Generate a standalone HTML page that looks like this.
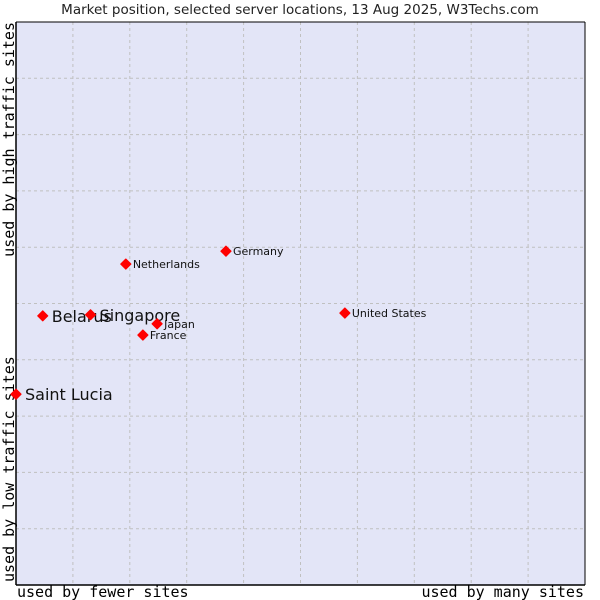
<!DOCTYPE html>
<html><head><meta charset="utf-8"><style>
html,body{margin:0;padding:0;background:#fff;}
svg{display:block;}
</style></head><body>
<svg id="chart" width="600" height="600" xmlns="http://www.w3.org/2000/svg">
<text x="300" y="14" text-anchor="middle" font-family="DejaVu Sans, sans-serif" font-size="13.5" fill="#222">Market position, selected server locations, 13 Aug 2025, W3Techs.com</text>
<rect x="16" y="22" width="569" height="563" fill="#e3e5f7"/>
<g id="grid"></g>
<line x1="16" y1="22" x2="16" y2="585" stroke="#000" stroke-width="1.5"/>
<line x1="16" y1="585" x2="585" y2="585" stroke="#000" stroke-width="1.5"/>
<line x1="585" y1="22" x2="585" y2="585" stroke="#000" stroke-width="1"/>
<line x1="16" y1="22" x2="585" y2="22" stroke="#000" stroke-width="1"/>
<text x="17" y="597" font-family="DejaVu Sans Mono, monospace" font-size="15" fill="#000">used by fewer sites</text>
<text x="584" y="597" text-anchor="end" font-family="DejaVu Sans Mono, monospace" font-size="15" fill="#000">used by many sites</text>
<text transform="translate(14,22) rotate(-90)" text-anchor="end" font-family="DejaVu Sans Mono, monospace" font-size="15" fill="#000">used by high traffic sites</text>
<text transform="translate(14,582) rotate(-90)" text-anchor="start" font-family="DejaVu Sans Mono, monospace" font-size="15" fill="#000">used by low traffic sites</text>
<g id="points"></g>
</svg>
<script>
const names = ["Saint Lucia","Belarus","Singapore","Japan","France","Netherlands","Germany","United States"];
const xValues = [0, 4.7, 13.1, 24.8, 22.3, 19.3, 36.9, 57.8];
const yValues = [33.9, 47.8, 48.0, 46.4, 44.4, 57.0, 59.3, 48.3];
const highlighted = [true, true, true, false, false, false, false, false];
const gridSteps = [1,2,3,4,5,6,7,8,9];

const L=16,R=585,T=22,B=585;
const xs = v => L + v/100*(R-L);
const ys = v => B - v/100*(B-T);
const NS="http://www.w3.org/2000/svg";
const grid=document.getElementById('grid');
gridSteps.forEach(s=>{
  const vl=document.createElementNS(NS,'line');
  
  
  vl.setAttribute('x1',xs(s*10));vl.setAttribute('x2',xs(s*10));
  vl.setAttribute('y1',T);vl.setAttribute('y2',B);
  vl.setAttribute('stroke','#c0c0c0');vl.setAttribute('stroke-dasharray','3,3');
  grid.appendChild(vl);
  const hl=document.createElementNS(NS,'line');
  
  
  hl.setAttribute('y1',ys(s*10));hl.setAttribute('y2',ys(s*10));
  hl.setAttribute('x1',L);hl.setAttribute('x2',R);
  hl.setAttribute('stroke','#c0c0c0');hl.setAttribute('stroke-dasharray','3,3');
  grid.appendChild(hl);
});
const pts=document.getElementById('points');
names.forEach((n,i)=>{
  const cx=xs(xValues[i]), cy=ys(yValues[i]);
  const d=document.createElementNS(NS,'path');
  
  
  d.setAttribute('d',`M${cx} ${cy-5}L${cx+5} ${cy}L${cx} ${cy+5}L${cx-5} ${cy}Z`);
  d.setAttribute('fill','#f00');
  d.setAttribute('stroke','#f00');
  d.setAttribute('stroke-width','1.2');
  d.setAttribute('stroke-linejoin','round');
  pts.appendChild(d);
  const t=document.createElementNS(NS,'text');
  
  
  const big=highlighted[i];
  t.setAttribute('x',cx+(big?9:7));
  t.setAttribute('y',cy+(big?6:4));
  t.setAttribute('font-family','DejaVu Sans, sans-serif');
  t.setAttribute('font-size',big?16:11);
  t.setAttribute('fill','#111');
  t.textContent=n;
  pts.appendChild(t);
});
</script>
</body></html>
